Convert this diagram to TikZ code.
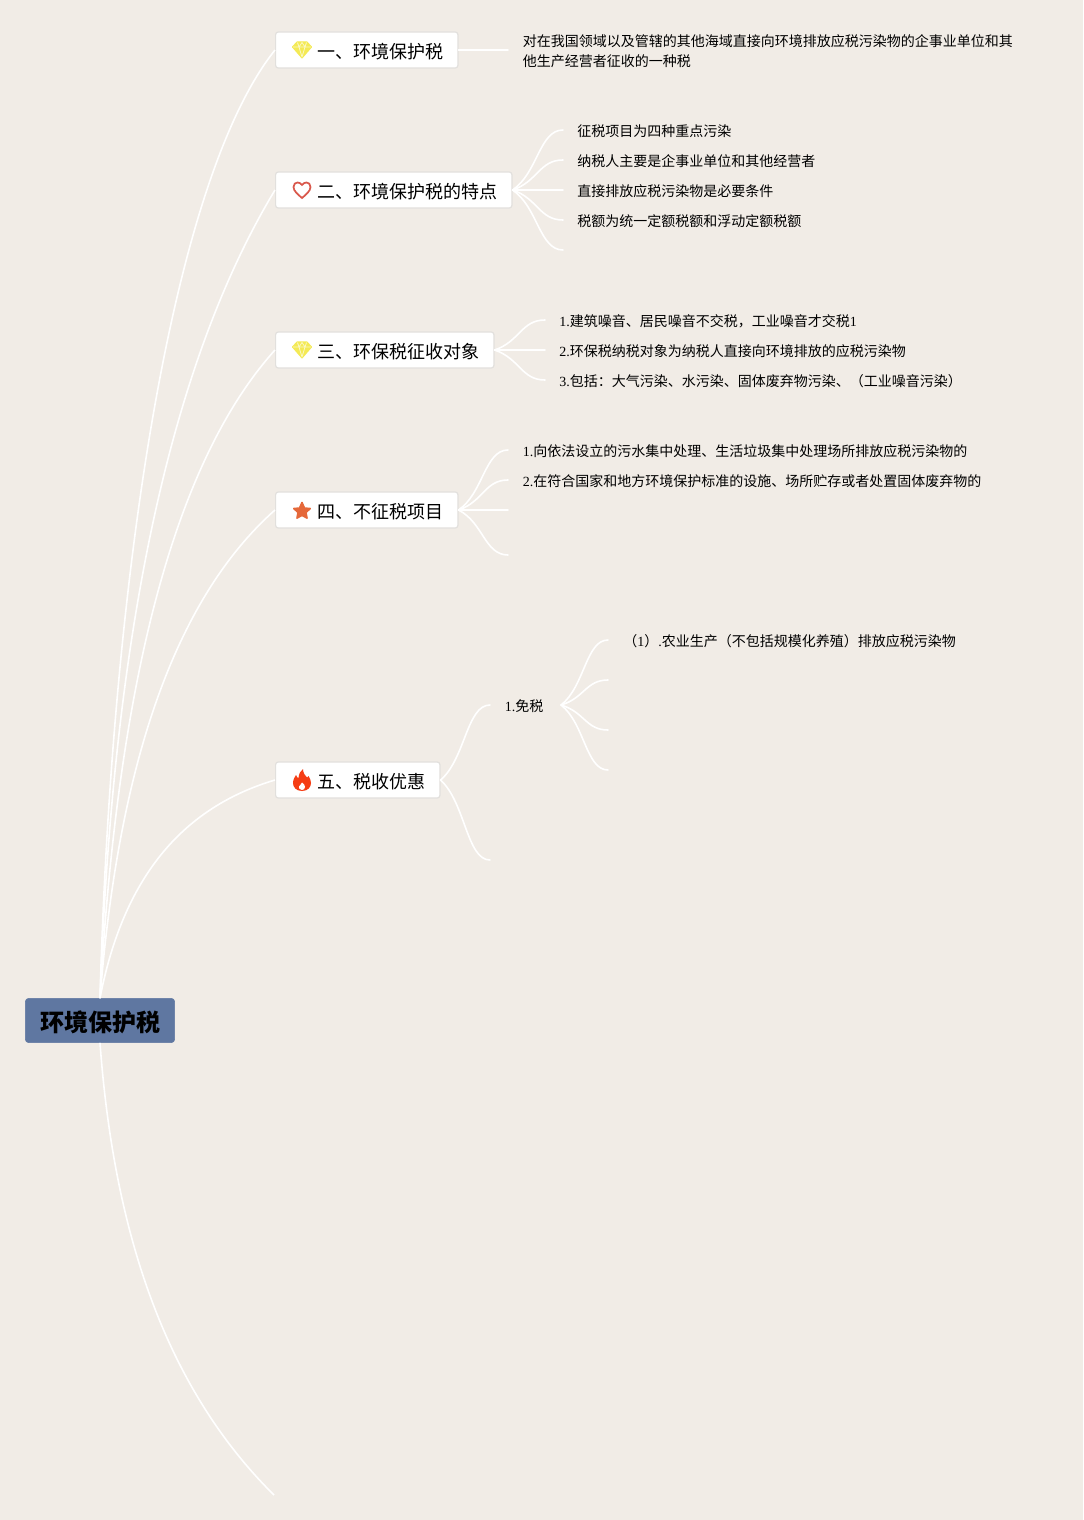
\documentclass[tikz,border=0pt]{standalone}
\usepackage{fontspec}
\setmainfont{Liberation Serif}
\newfontfamily\cjk{Noto Sans CJK SC}
\usetikzlibrary{calc}
\definecolor{bgcolor}{HTML}{F1ECE6}
\definecolor{rootcolor}{HTML}{5F77A1}
\definecolor{edgecolor}{HTML}{E2E0DD}
\definecolor{gemcolor}{HTML}{F4EA55}
\definecolor{gemfacet}{HTML}{FBF8C4}
\definecolor{heartcolor}{HTML}{D9584C}
\definecolor{starcolor}{HTML}{E5683A}
\definecolor{flamecolor}{HTML}{F53D14}
\tikzset{
    x=0.75pt, y=-0.75pt,
    rootbox/.style={fill=rootcolor, draw=rootcolor, rounded corners=2.5pt, minimum width=112pt, minimum height=33.2pt, inner sep=0pt, text height=18pt, text depth=2.1pt, font=\fontsize{18}{22}\selectfont\cjk\bfseries},
    headbox/.style={fill=white, draw=edgecolor, line width=0.9pt, rounded corners=2pt, anchor=west, minimum height=27pt, inner ysep=0pt, inner xsep=11pt, text height=14.5pt, text depth=2.44pt, font=\fontsize{13.5}{16}\selectfont\cjk, execute at begin node={\hspace*{20.25pt}}},
    leaf/.style={anchor=west, inner ysep=0pt, inner xsep=10.5pt, text height=11.5pt, text depth=2pt, font=\fontsize{10.5}{15}\selectfont},
    mainline/.style={draw=white, line width=1.2pt},
    subline/.style={draw=white, line width=1.2pt, line cap=round},
    fan/.style={to path={let \p1=(\tikztostart), \p2=(\tikztotarget) in .. controls ({\x1+0.5*(\x2-\x1)},{\y1+0.28*(\y2-\y1)}) and ({\x1+0.53*(\x2-\x1)},\y2) .. (\tikztotarget)}},
    pics/gem/.style={code={
        \draw[fill=gemcolor, draw=gemcolor, line width=0.8pt, line join=round] (-5,-8) -- (5,-8) -- (9.5,-3) -- (0,8) -- (-9.5,-3) -- cycle;
        \draw[draw=gemfacet, line width=0.6pt, line join=round] (-9,-3) -- (9,-3) (-3,-3) -- (0,7) -- (3,-3) (-4.5,-7.5) -- (-3,-3) -- (0,-7.5) -- (3,-3) -- (4.5,-7.5);
    }},
    pics/heart/.style={code={
        \draw[draw=heartcolor, line width=1.3pt] (0,8) .. controls (-4,4.5) and (-8.5,1) .. (-8.5,-3) .. controls (-8.5,-6) and (-6.5,-7.5) .. (-4.5,-7.5) .. controls (-2.5,-7.5) and (-1,-6.5) .. (0,-5) .. controls (1,-6.5) and (2.5,-7.5) .. (4.5,-7.5) .. controls (6.5,-7.5) and (8.5,-6) .. (8.5,-3) .. controls (8.5,1) and (4,4.5) .. (0,8) -- cycle;
    }},
    pics/starmark/.style={code={
        \path[fill=starcolor, draw=starcolor, line width=1.2pt, line join=round] (0,-8.5) -- (2.5,-2.9) -- (8.2,-2.5) -- (4,1.5) -- (5,7.1) -- (0,4.3) -- (-5,7.1) -- (-4,1.5) -- (-8.2,-2.5) -- (-2.5,-2.9) -- cycle;
    }},
    pics/flame/.style={code={
        \fill[flamecolor] (0,11) .. controls (-6,11) and (-9,7) .. (-9,3) .. controls (-9,-1) and (-7,-3) .. (-6,-5) .. controls (-5,-3) and (-4.5,-2) .. (-3.5,-2) .. controls (-3,-6) and (-2,-9) .. (1,-11) .. controls (1,-7) and (3,-4.5) .. (5,-2.5) .. controls (5.5,-3) and (6,-3.5) .. (6.5,-4) .. controls (8,-2) and (9,1) .. (9,3) .. controls (9,7) and (6,11) .. (0,11) -- cycle;
        \fill[white] (0,10) .. controls (-2.5,10) and (-3.5,8) .. (-3,6.5) .. controls (-2.5,5) and (-0.5,4.5) .. (0,2.5) .. controls (1.5,4) and (3.5,5) .. (3,7) .. controls (3,9) and (1.5,10) .. (0,10) -- cycle;
    }}
}
\begin{document}
\begin{tikzpicture}
    \fill[bgcolor] (0,0) rectangle (1083,1520);

    \node[rootbox] (root) at (100,1020.5) {环境保护税};

    \node[headbox] (h1) at (275,50) {一、环境保护税};
    \node[headbox] (h2) at (275,190) {二、环境保护税的特点};
    \node[headbox] (h3) at (275,350) {三、环保税征收对象};
    \node[headbox] (h4) at (275,510) {四、不征税项目};
    \node[headbox] (h5) at (275,780) {五、税收优惠};
    \coordinate (h6) at (274,1495);

    \pic at (302,50) {gem};
    \pic at (302,190) {heart};
    \pic at (302,350) {gem};
    \pic at (302,511) {starmark};
    \pic at (302,780) {flame};

    \node[leaf, align=left, inner xsep=11pt, text height=26.5pt] (l1) at (508,50) {{\cjk 对在我国领域以及管辖的其他海域直接向环境排放应税污染物的企事业单位和其}\\{\cjk 他生产经营者征收的一种税}};

    \node[leaf] (l21) at (563,130) {\cjk 征税项目为四种重点污染};
    \node[leaf] (l22) at (563,160) {\cjk 纳税人主要是企事业单位和其他经营者};
    \node[leaf] (l23) at (563,190) {\cjk 直接排放应税污染物是必要条件};
    \node[leaf] (l24) at (563,220) {\cjk 税额为统一定额税额和浮动定额税额};
    \coordinate (l25) at (563,250);

    \node[leaf] (l31) at (545,320) {1.{\cjk 建筑噪音、居民噪音不交税，工业噪音才交税}1};
    \node[leaf] (l32) at (545,350) {2.{\cjk 环保税纳税对象为纳税人直接向环境排放的应税污染物}};
    \node[leaf] (l33) at (545,380) {3.{\cjk 包括：大气污染、水污染、固体废弃物污染、（工业噪音污染）}};

    \node[leaf, inner xsep=11pt] (l41) at (508,450) {1.{\cjk 向依法设立的污水集中处理、生活垃圾集中处理场所排放应税污染物的}};
    \node[leaf, inner xsep=11pt] (l42) at (508,480) {2.{\cjk 在符合国家和地方环境保护标准的设施、场所贮存或者处置固体废弃物的}};
    \coordinate (l43) at (508,510);
    \coordinate (l44) at (508,555);

    \node[leaf, inner xsep=11pt] (l51) at (490,705) {1.{\cjk 免税}\hspace*{2pt}};
    \coordinate (l52) at (490,860);

    \node[leaf, inner xsep=11.25pt] (m1) at (608,640) {{\cjk （}1{\cjk ）}.{\cjk 农业生产（不包括规模化养殖）排放应税污染物}};
    \coordinate (m2) at (608,680);
    \coordinate (m3) at (608,730);
    \coordinate (m4) at (608,770);

    \draw[mainline] (root.north) .. controls (111,599) and (168,184) .. (h1.west);
    \draw[mainline] (root.north) .. controls (113,633) and (170,364) .. (h2.west);
    \draw[mainline] (root.north) .. controls (118,679) and (175,461) .. (h3.west);
    \draw[mainline] (root.north) .. controls (119,759) and (177,597) .. (h4.west);
    \draw[mainline] (root.north) .. controls (123,879) and (181,808) .. (h5.west);
    \draw[mainline] (root.south) .. controls (115,1248) and (173,1395) .. (h6);

    \draw[subline] (h1.east) -- (l1.west);
    \draw[subline] (h2.east) to[fan] (l21.west);
    \draw[subline] (h2.east) to[fan] (l22.west);
    \draw[subline] (h2.east) to[fan] (l23.west);
    \draw[subline] (h2.east) to[fan] (l24.west);
    \draw[subline] (h2.east) to[fan] (l25);
    \draw[subline] (h3.east) to[fan] (l31.west);
    \draw[subline] (h3.east) to[fan] (l32.west);
    \draw[subline] (h3.east) to[fan] (l33.west);
    \draw[subline] (h4.east) to[fan] (l41.west);
    \draw[subline] (h4.east) to[fan] (l42.west);
    \draw[subline] (h4.east) to[fan] (l43);
    \draw[subline] (h4.east) to[fan] (l44);
    \draw[subline] (h5.east) to[fan] (l51.west);
    \draw[subline] (h5.east) to[fan] (l52);
    \draw[subline] (l51.east) to[fan] (m1.west);
    \draw[subline] (l51.east) to[fan] (m2);
    \draw[subline] (l51.east) to[fan] (m3);
    \draw[subline] (l51.east) to[fan] (m4);
\end{tikzpicture}
\end{document}
